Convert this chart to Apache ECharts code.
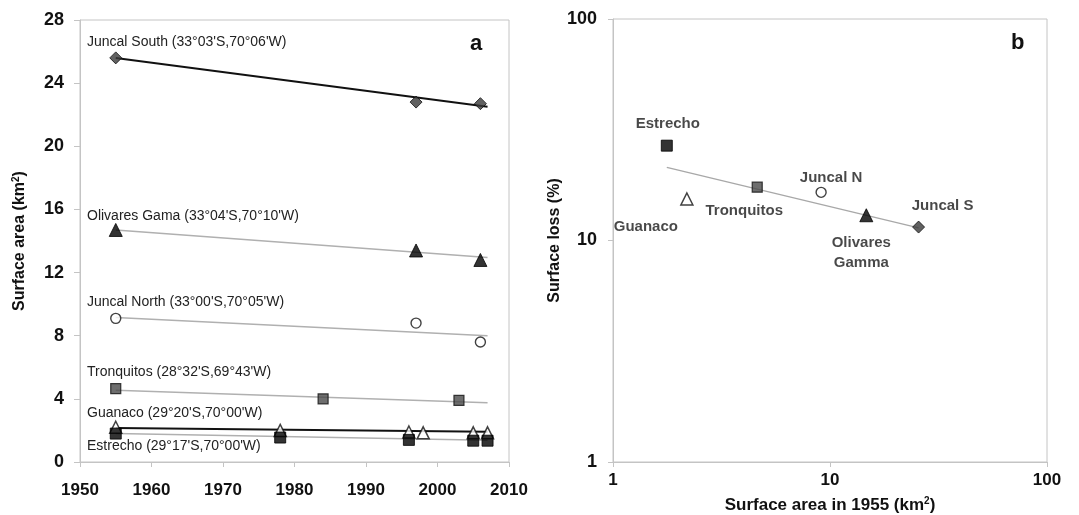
<!DOCTYPE html>
<html><head><meta charset="utf-8">
<script src="https://cdn.jsdelivr.net/npm/echarts@6/dist/echarts.min.js"></script>
<style>html,body{margin:0;padding:0;background:#fff}#c{width:1079px;height:515px}</style>
</head><body><div id="c"></div>
<script>
// ---- Panel a: surface area through time (km2) ----
const yearsJuncalS = [1955, 1997, 2006];
const areaJuncalS = [25.6, 22.8, 22.7];
const yearsOlivares = [1955, 1997, 2006];
const areaOlivares = [14.7, 13.4, 12.8];
const yearsJuncalN = [1955, 1997, 2006];
const areaJuncalN = [9.1, 8.8, 7.6];
const yearsTronquitos = [1955, 1984, 2003];
const areaTronquitos = [4.65, 4.0, 3.9];
const yearsGuanaco = [1955, 1978, 1996, 1998, 2005, 2007];
const areaGuanaco = [2.2, 2.0, 1.9, 1.85, 1.85, 1.85];
const yearsEstrecho = [1955, 1978, 1996, 2005, 2007];
const areaEstrecho = [1.8, 1.55, 1.4, 1.35, 1.35];
// trend lines: [start year, end year] and [start, end] values
const trendYears = [1955, 2007];
const trendJuncalS = [25.6, 22.5];
const trendOlivares = [14.7, 12.95];
const trendJuncalN = [9.15, 8.0];
const trendTronquitos = [4.55, 3.75];
const trendGuanaco = [2.15, 1.92];
const trendEstrecho = [1.8, 1.38];
const xTicksA = [1950, 1960, 1970, 1980, 1990, 2000, 2010];
const yTicksA = [0, 4, 8, 12, 16, 20, 24, 28];
const labelsA = [
  'Juncal South (33°03\'S,70°06\'W)',
  'Olivares Gama (33°04\'S,70°10\'W)',
  'Juncal North (33°00\'S,70°05\'W)',
  'Tronquitos (28°32\'S,69°43\'W)',
  'Guanaco (29°20\'S,70°00\'W)',
  'Estrecho (29°17\'S,70°00\'W)'
];

// ---- Panel b: surface loss vs 1955 area (log-log) ----
const namesB = ['Estrecho', 'Guanaco', 'Tronquitos', 'Juncal N', 'Olivares\nGamma', 'Juncal S'];
const area1955B = [1.77, 2.19, 4.62, 9.1, 14.7, 25.6];
const lossB = [26.8, 15.4, 17.4, 16.5, 13.0, 11.5];
const trendAreaB = [1.77, 25.6];
const trendLossB = [21.4, 11.4];

const zip = (a, b) => a.map((v, i) => [v, b[i]]);
const font = "'Liberation Sans', Arial, sans-serif";
const axisGray = '#c4c4c4';

const ptStyles = [
  {symbol: 'diamond', symbolSize: 12, itemStyle: {color: '#3a3a3a', borderColor: '#111', borderWidth: 1}},
  {symbol: 'triangle', symbolSize: 13, itemStyle: {color: '#000', borderColor: '#000', borderWidth: 1}},
  {symbol: 'circle', symbolSize: 10, itemStyle: {color: '#fff', borderColor: '#111', borderWidth: 1.4}},
  {symbol: 'rect', symbolSize: 10, itemStyle: {color: '#4a4a4a', borderColor: '#111', borderWidth: 1.2}},
  {symbol: 'triangle', symbolSize: 12, itemStyle: {color: '#fff', borderColor: '#111', borderWidth: 1.5}},
  {symbol: 'rect', symbolSize: 11, itemStyle: {color: '#000', borderColor: '#000', borderWidth: 1}}
];

const seriesA = [
  [yearsJuncalS, areaJuncalS, trendJuncalS, '#111', 2],
  [yearsOlivares, areaOlivares, trendOlivares, '#b0b0b0', 1.5],
  [yearsJuncalN, areaJuncalN, trendJuncalN, '#b0b0b0', 1.5],
  [yearsTronquitos, areaTronquitos, trendTronquitos, '#b0b0b0', 1.5],
  [yearsGuanaco, areaGuanaco, trendGuanaco, '#111', 2],
  [yearsEstrecho, areaEstrecho, trendEstrecho, '#b0b0b0', 1.5]
];

const series = [];
seriesA.forEach((s) => {
  series.push({
    type: 'line', xAxisIndex: 0, yAxisIndex: 0, data: zip(trendYears, s[2]),
    showSymbol: false, lineStyle: {color: s[3], width: s[4]}, silent: true, z: 2
  });
});
seriesA.forEach((s, i) => {
  series.push(Object.assign({
    type: 'scatter', xAxisIndex: 0, yAxisIndex: 0, data: zip(s[0], s[1]), z: 3
  }, ptStyles[i]));
});
// panel b trend
series.push({
  type: 'line', xAxisIndex: 1, yAxisIndex: 1, data: zip(trendAreaB, trendLossB),
  showSymbol: false, lineStyle: {color: '#a8a8a8', width: 1.3}, silent: true, z: 2
});
// panel b label offsets (layout only)
const labelOffsetsB = [[1, -22], [-41, 28], [-13, 24], [10, -14], [-5, 38], [24, -21]];
const orderB = [5, 4, 3, 2, 1, 0]; // map panel-b items to marker styles
namesB.forEach((n, i) => {
  series.push(Object.assign({
    type: 'scatter', xAxisIndex: 1, yAxisIndex: 1, z: 3,
    data: [[area1955B[i], lossB[i]]],
    label: {
      show: true, formatter: n, position: 'inside', offset: labelOffsetsB[i],
      color: '#1a1a1a', fontFamily: font, fontWeight: 'bold', fontSize: 15, lineHeight: 20,
      align: 'center', verticalAlign: 'middle'
    }
  }, ptStyles[orderB[i]]));
});

const labelYs = [43, 217, 303, 373, 414, 447];
const graphics = labelsA.map((t, i) => ({
  type: 'text', left: 87, top: labelYs[i] - 8,
  style: {text: t, fill: '#222', font: "14px 'Liberation Sans', Arial, sans-serif"}
}));
graphics.push({type: 'text', left: 470, top: 33, style: {text: 'a', fill: '#111', font: "bold 22px 'Liberation Sans', Arial, sans-serif"}});
graphics.push({type: 'text', left: 1011, top: 32, style: {text: 'b', fill: '#111', font: "bold 22px 'Liberation Sans', Arial, sans-serif"}});

const supRich = {sup: {fontSize: 10, verticalAlign: 'top', padding: [0, 0, 8, 0], fontWeight: 'bold', fontFamily: font, color: '#111'}};

const option = {
  backgroundColor: '#fff',
  animation: false,
  grid: [
    {left: 80, right: 570, top: 20, bottom: 53, show: true, borderColor: axisGray, borderWidth: 1, outerBoundsMode: 'none', containLabel: false},
    {left: 613, right: 32, top: 19, bottom: 53, show: true, borderColor: axisGray, borderWidth: 1, outerBoundsMode: 'none', containLabel: false}
  ],
  xAxis: [
    {
      type: 'value', gridIndex: 0, min: xTicksA[0], max: xTicksA[xTicksA.length - 1], interval: 10,
      axisLine: {lineStyle: {color: axisGray}}, axisTick: {show: true, length: 5, lineStyle: {color: axisGray}},
      splitLine: {show: false},
      axisLabel: {margin: 20, color: '#111', fontFamily: font, fontWeight: 'bold', fontSize: 17, formatter: (v) => String(v)}
    },
    {
      type: 'log', gridIndex: 1, min: 1, max: 100, logBase: 10,
      axisLine: {lineStyle: {color: axisGray}}, axisTick: {show: true, length: 5, lineStyle: {color: axisGray}},
      splitLine: {show: false}, minorTick: {show: false},
      axisLabel: {margin: 10, color: '#111', fontFamily: font, fontWeight: 'bold', fontSize: 17, formatter: (v) => String(v)},
      name: 'Surface area in 1955 (km{sup|2})', nameLocation: 'middle', nameGap: 34,
      nameTextStyle: {color: '#111', fontFamily: font, fontWeight: 'bold', fontSize: 17, rich: supRich}
    }
  ],
  yAxis: [
    {
      type: 'value', gridIndex: 0, min: yTicksA[0], max: yTicksA[yTicksA.length - 1], interval: 4,
      axisLine: {show: true, lineStyle: {color: axisGray}}, axisTick: {show: true, length: 6, lineStyle: {color: axisGray}},
      splitLine: {show: false},
      axisLabel: {margin: 16, color: '#111', fontFamily: font, fontWeight: 'bold', fontSize: 18},
      name: 'Surface area (km{sup|2})', nameLocation: 'middle', nameGap: 51, nameRotate: 90,
      nameTextStyle: {color: '#111', fontFamily: font, fontWeight: 'bold', fontSize: 16, rich: supRich}
    },
    {
      type: 'log', gridIndex: 1, min: 1, max: 100, logBase: 10,
      axisLine: {show: true, lineStyle: {color: axisGray}}, axisTick: {show: true, length: 5, lineStyle: {color: axisGray}},
      splitLine: {show: false}, minorTick: {show: false},
      axisLabel: {margin: 16, color: '#111', fontFamily: font, fontWeight: 'bold', fontSize: 18, formatter: (v) => String(v)},
      name: 'Surface loss (%)', nameLocation: 'middle', nameGap: 43, nameRotate: 90,
      nameTextStyle: {color: '#111', fontFamily: font, fontWeight: 'bold', fontSize: 16}
    }
  ],
  graphic: graphics,
  series: series
};
const chart = echarts.init(document.getElementById('c'), null, {renderer: 'canvas'});
chart.setOption(option);
</script></body></html>
